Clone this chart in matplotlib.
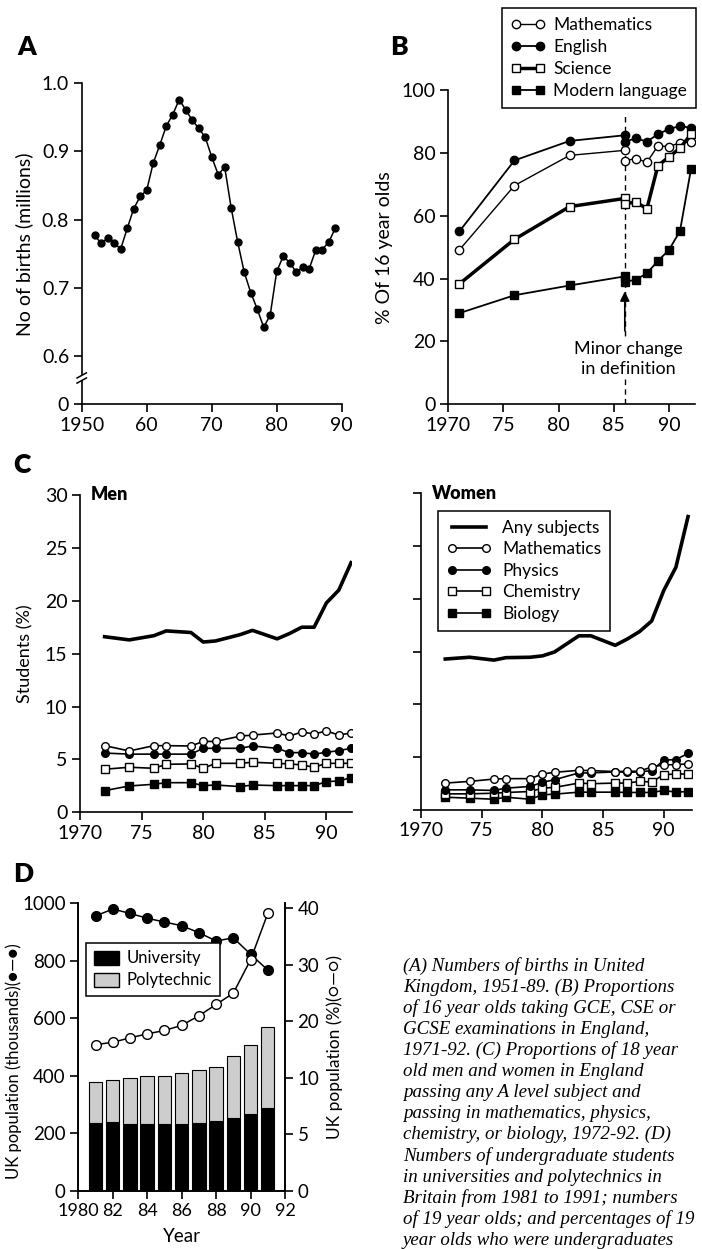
import numpy as np
import matplotlib
matplotlib.use('Agg')
import matplotlib.pyplot as plt
from matplotlib.lines import Line2D
from matplotlib.patches import Patch, Rectangle

plt.rcParams['font.family'] = ['Lato', 'DejaVu Sans']
plt.rcParams['axes.linewidth'] = 1.2

# ---- data -------------------------------------------------------------
# A: births in the UK (millions)
years_a = list(range(1952, 1990))
births = [0.777, 0.765, 0.773, 0.765, 0.757, 0.787, 0.816, 0.834, 0.843, 0.883,
          0.909, 0.937, 0.954, 0.976, 0.961, 0.946, 0.934, 0.921, 0.892, 0.866,
          0.877, 0.817, 0.767, 0.723, 0.693, 0.669, 0.642, 0.660, 0.724, 0.746,
          0.737, 0.723, 0.730, 0.728, 0.755, 0.756, 0.767, 0.787]

# B: % of 16 year olds, old definition up to 1986, new one from 1986
years_b_old = [1971, 1976, 1981, 1986]
years_b_new = [1986, 1987, 1988, 1989, 1990, 1991, 1992]
maths_old = [49.1, 69.6, 79.2, 80.8]
maths_new = [77.5, 78.2, 77.0, 82.2, 82.0, 83.2, 83.6]
english_old = [55.0, 77.6, 83.8, 85.6]
english_new = [83.6, 84.6, 83.6, 85.9, 87.6, 88.5, 88.0]
science_old = [38.3, 52.5, 62.9, 65.5]
science_new = [63.7, 64.4, 62.2, 75.9, 78.7, 81.5, 85.9]
modlang_old = [29.0, 34.7, 37.8, 40.7]
modlang_new = [39.0, 39.6, 41.7, 45.6, 49.1, 55.1, 74.8]

# C: % of 18 year olds passing A levels
years_c = [1972, 1974, 1976, 1977, 1979, 1980, 1981, 1983, 1984, 1986,
           1987, 1988, 1989, 1990, 1991, 1992]
men_any = [16.6, 16.3, 16.7, 17.15, 17.0, 16.1, 16.2, 16.8, 17.2, 16.4,
           16.9, 17.5, 17.5, 19.8, 21.0, 23.6]
men_maths = [6.3, 5.8, 6.3, 6.3, 6.27, 6.7, 6.7, 7.2, 7.3, 7.5,
             7.2, 7.6, 7.4, 7.7, 7.3, 7.5]
men_phys = [5.6, 5.5, 5.5, 5.5, 5.5, 6.05, 6.05, 6.05, 6.27, 6.05,
            5.64, 5.64, 5.5, 5.67, 5.83, 6.05]
men_chem = [4.07, 4.26, 4.16, 4.54, 4.57, 4.16, 4.63, 4.63, 4.73, 4.63,
            4.57, 4.48, 4.26, 4.63, 4.63, 4.63]
men_bio = [2.05, 2.49, 2.65, 2.8, 2.8, 2.52, 2.58, 2.43, 2.58, 2.52,
           2.52, 2.52, 2.52, 2.9, 2.96, 3.28]
women_any = [14.3, 14.47, 14.2, 14.43, 14.47, 14.6, 14.97, 16.5, 16.5, 15.6,
             16.2, 16.9, 17.9, 20.8, 23.0, 27.8]
women_maths = [2.55, 2.71, 2.93, 2.97, 2.97, 3.41, 3.57, 3.76, 3.73, 3.64,
               3.67, 3.67, 4.08, 4.27, 4.3, 4.37]
women_phys = [1.91, 1.91, 1.85, 2.07, 2.23, 2.62, 2.87, 3.51, 3.51, 3.61,
              3.57, 3.61, 3.73, 4.72, 4.78, 5.36]
women_chem = [1.53, 1.53, 1.59, 1.66, 1.75, 2.07, 2.14, 2.55, 2.49, 2.55,
              2.55, 2.71, 2.65, 3.35, 3.41, 3.41]
women_bio = [1.21, 1.12, 1.02, 1.21, 1.02, 1.44, 1.5, 1.69, 1.69, 1.69,
             1.66, 1.66, 1.66, 1.85, 1.69, 1.75]

# D: undergraduates (thousands), 19 year olds (thousands), % undergraduates
years_d = [1981, 1982, 1983, 1984, 1985, 1986, 1987, 1988, 1989, 1990, 1991]
university = [237.5, 240, 232, 232, 232, 234, 237.5, 244.5, 255, 267.7, 287]
polytechnic = [140.5, 146, 161, 168, 168, 175, 183.5, 187.5, 215, 239.3, 282]
pop19 = [956, 980, 965, 948, 935, 922, 898, 869, 880, 823, 768]
pct_ug = [15.9, 16.3, 17.1, 17.8, 18.4, 19.3, 21.0, 23.0, 25.0, 30.9, 39.1]

caption = [
    "(A) Numbers of births in United",
    "Kingdom, 1951-89. (B) Proportions",
    "of 16 year olds taking GCE, CSE or",
    "GCSE examinations in England,",
    "1971-92. (C) Proportions of 18 year",
    "old men and women in England",
    "passing any A level subject and",
    "passing in mathematics, physics,",
    "chemistry, or biology, 1972-92. (D)",
    "Numbers of undergraduate students",
    "in universities and polytechnics in",
    "Britain from 1981 to 1991; numbers",
    "of 19 year olds; and percentages of 19",
    "year olds who were undergraduates",
]

# ---- styles -----------------------------------------------------------
W, H = 702, 1249
TICK = 14
open_c = dict(marker='o', mfc='white', mec='black', color='black')
fill_c = dict(marker='o', mfc='black', mec='black', color='black')
open_s = dict(marker='s', mfc='white', mec='black', color='black')
fill_s = dict(marker='s', mfc='black', mec='black', color='black')


def rect(left, top, right, bottom):
    return [left / W, 1 - bottom / H, (right - left) / W, (bottom - top) / H]


def style(ax):
    for s in ['top', 'right']:
        ax.spines[s].set_visible(False)
    ax.tick_params(direction='out', length=6, width=1.2, labelsize=TICK, pad=3)


def boxed_legend(handles, labels, anchor, **kw):
    leg = fig.legend(handles, labels, loc='upper left', bbox_to_anchor=anchor,
                     frameon=True, fancybox=False, edgecolor='black',
                     framealpha=1, borderaxespad=0, **kw)
    leg.get_frame().set_linewidth(1.1)
    return leg


fig = plt.figure(figsize=(W / 100, H / 100), dpi=100)

# ---- A ----------------------------------------------------------------
ax = fig.add_axes(rect(81.7, 83.3, 341.7, 404.3))
style(ax)


def fwd_a(v):
    v = np.asarray(v, dtype=float)
    return np.where(v >= 0.6, v, 0.529 + v * 0.071 / 0.6)


def inv_a(p):
    p = np.asarray(p, dtype=float)
    return np.where(p >= 0.6, p, (p - 0.529) * 0.6 / 0.071)


ax.set_yscale('function', functions=(fwd_a, inv_a))
ax.plot(years_a, births, lw=1.1, ms=5, **fill_c)
ax.set_xlim(1950, 1990)
ax.set_ylim(0, 1.0)
ax.set_yticks([0, 0.6, 0.7, 0.8, 0.9, 1.0])
ax.set_yticklabels(['0', '0.6', '0.7', '0.8', '0.9', '1.0'])
ax.set_xticks([1950, 1960, 1970, 1980, 1990])
ax.set_xticklabels(['1950', '60', '70', '80', '90'])
ax.yaxis.set_minor_locator(plt.NullLocator())
ax.set_ylabel('No of births (millions)', fontsize=14, labelpad=6)
# axis break
fb = 0.082
ax.add_patch(Rectangle((-0.02, fb - 0.008), 0.04, 0.016, transform=ax.transAxes,
                       facecolor='white', edgecolor='none', clip_on=False, zorder=5))
for dy in (-0.008, 0.008):
    ax.plot([-0.018, 0.018], [fb + dy - 0.008, fb + dy + 0.008], color='black',
            lw=1.1, transform=ax.transAxes, clip_on=False, zorder=6)
fig.text(17 / W, 1 - 47 / H, 'A', fontsize=19, weight='heavy', va='center')

# ---- B ----------------------------------------------------------------
ax = fig.add_axes(rect(448.3, 90, 695.4, 404.3))
style(ax)
ax.plot([1986, 1986], [0, 92], ls=(0, (4, 3)), color='black', lw=1)
ax.plot(years_b_old, maths_old, lw=1.0, ms=6, **open_c)
ax.plot(years_b_new, maths_new, lw=1.0, ms=6, **open_c)
ax.plot(years_b_old, english_old, lw=1.3, ms=6, **fill_c)
ax.plot(years_b_new, english_new, lw=1.3, ms=6, **fill_c)
ax.plot(years_b_old, science_old, lw=2.5, ms=6, **open_s)
ax.plot(years_b_new, science_new, lw=2.5, ms=6, **open_s)
ax.plot(years_b_old, modlang_old, lw=1.3, ms=6, **fill_s)
ax.plot(years_b_new, modlang_new, lw=1.3, ms=6, **fill_s)
ax.annotate('', xy=(1986, 36.8), xytext=(1986, 22.5),
            arrowprops=dict(arrowstyle='-|>', color='black', lw=1.2,
                            mutation_scale=14))
ax.text(1986.3, 14.4, 'Minor change\nin definition', ha='center', va='center',
        fontsize=13, linespacing=1.25,
        bbox=dict(facecolor='white', edgecolor='none', pad=1))
ax.set_xlim(1970, 1992.4)
ax.set_ylim(0, 100)
ax.set_xticks([1970, 1975, 1980, 1985, 1990])
ax.set_xticklabels(['1970', '75', '80', '85', '90'])
ax.set_yticks([0, 20, 40, 60, 80, 100])
ax.set_ylabel('% Of 16 year olds', fontsize=14, labelpad=6)
hb = [Line2D([], [], lw=1.0, ms=6, **open_c),
      Line2D([], [], lw=1.3, ms=6, **fill_c),
      Line2D([], [], lw=2.5, ms=6, **open_s),
      Line2D([], [], lw=1.3, ms=6, **fill_s)]
boxed_legend(hb, ['Mathematics', 'English', 'Science', 'Modern language'],
             (502 / W, 1 - 8 / H), numpoints=2, fontsize=12.5,
             handlelength=2.0, labelspacing=0.36, borderpad=0.5,
             handletextpad=0.45)
fig.text(390 / W, 1 - 47 / H, 'B', fontsize=19, weight='heavy', va='center')

# ---- C ----------------------------------------------------------------
fig.text(13 / W, 1 - 465 / H, 'C', fontsize=19, weight='heavy', va='center')
panels = [
    (rect(80, 495, 351.7, 812.3), 1992.05, 'Men',
     [men_any, men_maths, men_phys, men_chem, men_bio]),
    (rect(421, 493.3, 691.7, 810), 1992.3, 'Women',
     [women_any, women_maths, women_phys, women_chem, women_bio]),
]
for i, (pos, xmax, title, series) in enumerate(panels):
    ax = fig.add_axes(pos)
    style(ax)
    ax.plot(years_c, series[0], color='black', lw=2.6)
    ax.plot(years_c, series[4], lw=1.2, ms=5.5, **fill_s)
    ax.plot(years_c, series[3], lw=1.2, ms=5.5, **open_s)
    ax.plot(years_c, series[2], lw=1.2, ms=5.5, **fill_c)
    ax.plot(years_c, series[1], lw=1.2, ms=5.5, **open_c)
    ax.set_xlim(1970, xmax)
    ax.set_ylim(0, 30)
    ax.set_xticks([1970, 1975, 1980, 1985, 1990])
    ax.set_xticklabels(['1970', '75', '80', '85', '90'])
    ax.set_yticks([0, 5, 10, 15, 20, 25, 30])
    ax.text(0.04, 1.0, title, transform=ax.transAxes, fontsize=13,
            weight='heavy', va='center')
    if i == 0:
        ax.set_ylabel('Students (%)', fontsize=13, labelpad=8)
    else:
        ax.set_yticklabels([])
        hc = [Line2D([], [], color='black', lw=2.6),
              Line2D([], [], lw=1.2, ms=5.5, **open_c),
              Line2D([], [], lw=1.2, ms=5.5, **fill_c),
              Line2D([], [], lw=1.2, ms=5.5, **open_s),
              Line2D([], [], lw=1.2, ms=5.5, **fill_s)]
        boxed_legend(hc, ['Any subjects', 'Mathematics', 'Physics', 'Chemistry',
                          'Biology'],
                     (437.7 / W, 1 - 511 / H), numpoints=2, fontsize=12.5,
                     handlelength=2.6, labelspacing=0.32, borderpad=0.5,
                     handletextpad=0.6)

# ---- D ----------------------------------------------------------------
ax = fig.add_axes(rect(78.3, 903.3, 285, 1191))
ax.spines['top'].set_visible(False)
ax.tick_params(direction='out', length=6, width=1.2, labelsize=13.5, pad=3)
ax.bar(years_d, university, width=0.78, color='black', edgecolor='black', lw=0.8)
ax.bar(years_d, polytechnic, bottom=university, width=0.78, color='#cdcdcd',
       edgecolor='black', lw=0.8)
ax.plot(years_d, pop19, lw=1.1, ms=7, **fill_c)
ax.set_xlim(1980, 1992)
ax.set_ylim(0, 1000)
ax.set_xticks([1980, 1982, 1984, 1986, 1988, 1990, 1992])
ax.set_xticklabels(['1980', '82', '84', '86', '88', '90', '92'])
ax.tick_params(axis='x', labelsize=13)
ax.set_yticks([0, 200, 400, 600, 800, 1000])
ax.set_xlabel('Year', fontsize=13.5, labelpad=6)
ax.set_ylabel('UK population (thousands)(\u25cf\u2014\u25cf)', fontsize=12,
              labelpad=5)
ax.yaxis.set_label_coords(-0.27, 0.45)

ax2 = ax.twinx()
ax2.spines['top'].set_visible(False)


def fwd_d(v):
    v = np.asarray(v, dtype=float)
    return np.where(v <= 10, v / 5, 2 + (v - 10) / 10)


def inv_d(p):
    p = np.asarray(p, dtype=float)
    return np.where(p <= 2, p * 5, 10 + (p - 2) * 10)


ax2.set_yscale('function', functions=(fwd_d, inv_d))
ax2.plot(years_d, pct_ug, lw=1.1, ms=7, **open_c)
ax2.set_ylim(0, 40.9)
ax2.set_yticks([0, 5, 10, 20, 30, 40])
ax2.set_yticklabels(['0', '5', '10', '20', '30', '40'])
ax2.yaxis.set_minor_locator(plt.NullLocator())
ax2.tick_params(direction='out', length=6, width=1.2, labelsize=13.5, pad=3)
ax2.set_ylabel('UK population (%)(\u25cb\u2014\u25cb)', fontsize=12.5, labelpad=5)
hd = [Patch(facecolor='black', edgecolor='black'),
      Patch(facecolor='#cdcdcd', edgecolor='black')]
leg = ax2.legend(hd, ['University', 'Polytechnic'], loc='upper left',
                 bbox_to_anchor=(86 / W, 1 - 943 / H),
                 bbox_transform=fig.transFigure, fontsize=12, frameon=True,
                 fancybox=False, edgecolor='black', framealpha=1,
                 handlelength=1.5, handleheight=0.9, labelspacing=0.35,
                 borderpad=0.45, handletextpad=0.5, borderaxespad=0)
leg.get_frame().set_linewidth(1.1)
fig.text(13 / W, 1 - 874 / H, 'D', fontsize=19, weight='heavy', va='center')

# ---- caption ----------------------------------------------------------
for i, line in enumerate(caption):
    fig.text(403 / W, 1 - (966 + 21.1 * i) / H, line, fontsize=13.6,
             family='Liberation Serif', style='italic', va='center')

fig.savefig('out.png', dpi=100)
